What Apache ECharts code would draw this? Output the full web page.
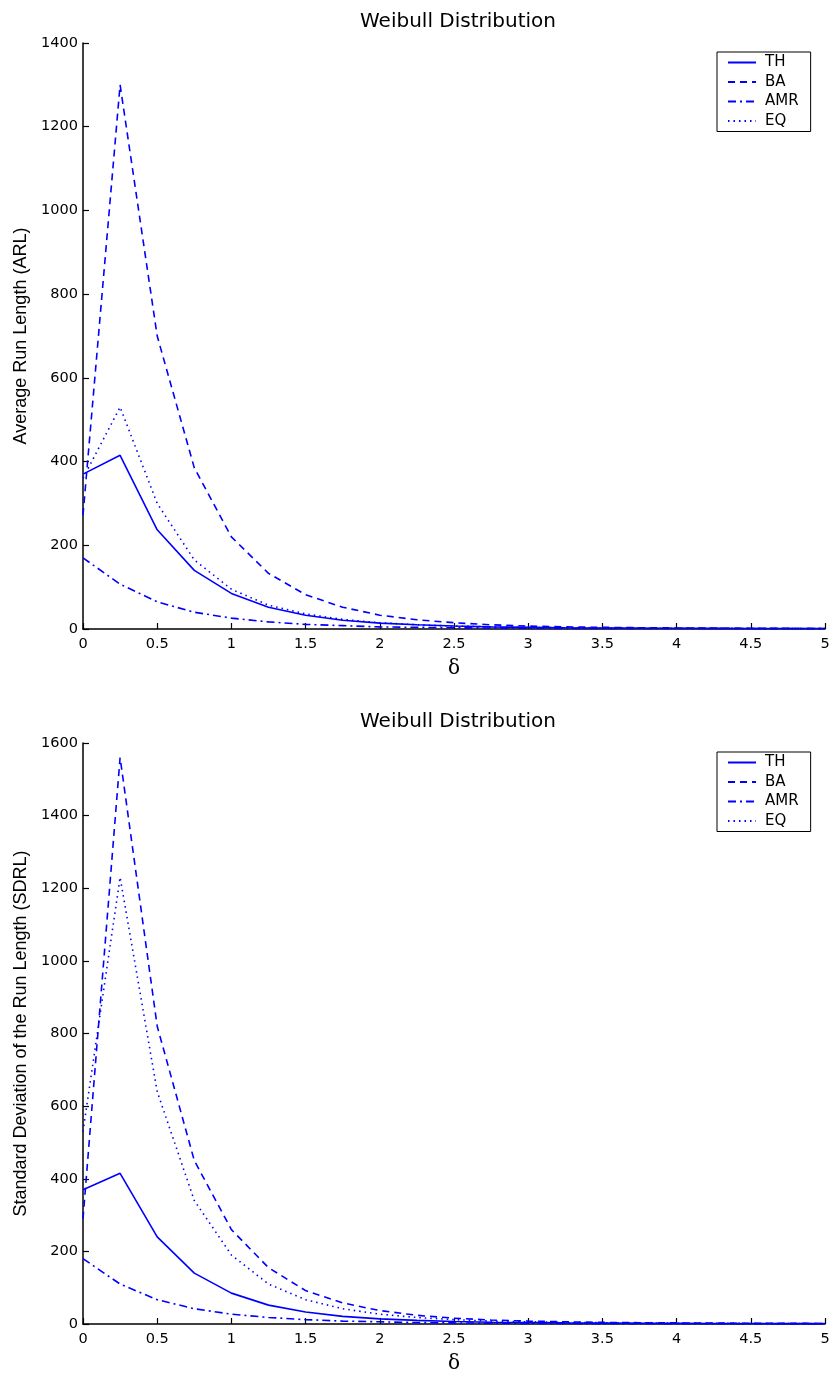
<!DOCTYPE html>
<html><head><meta charset="utf-8">
<script src="https://cdn.jsdelivr.net/npm/echarts@6/dist/echarts.min.js"></script>
<style>html,body{margin:0;padding:0;background:#fff}#c{width:834px;height:1375px}</style>
</head><body><div id="c"></div>
<script>
const deltas = [0,0.25,0.5,0.75,1,1.25,1.5,1.75,2,2.25,2.5,2.75,3,3.25,3.5,3.75,4,4.25,4.5,4.75,5];
const seriesNames = ['TH','BA','AMR','EQ'];
// ARL (top panel)
const arlTH  = [370,415,237,140,85,52,33,21,14,10,7,5,4,3,2.5,2,1.8,1.5,1.3,1.2,1.1];
const arlBA  = [272,1300,700,385,220,133,82,52,33,22,15,10,7,5,4,3,2.5,2,1.6,1.4,1.2];
const arlAMR = [170,107,65,40,26,17,11,8,5,4,3,2.3,1.8,1.5,1.3,1.2,1.1,1.1,1,1,1];
const arlEQ  = [360,530,300,165,95,57,36,23,15,10,7,5,4,3,2.4,2,1.7,1.5,1.3,1.2,1.1];
// SDRL (bottom panel)
const sdTH  = [370,415,240,140,85,52,33,21,14,10,7,5,4,3,2.5,2,1.6,1.3,1.1,1,0.9];
const sdBA  = [290,1560,820,450,260,155,92,58,37,24,16,11,8,6,4.5,3.5,3,2.5,2,1.7,1.5];
const sdAMR = [180,110,67,42,27,18,12,8,6,4,3,2.2,1.7,1.3,1,0.9,0.7,0.6,0.5,0.5,0.4];
const sdEQ  = [530,1230,640,340,190,110,67,42,27,18,12,8,6,4.5,3.5,2.8,2.2,1.8,1.5,1.3,1.1];
const titles = ['Weibull Distribution','Weibull Distribution'];
const yNames = ['Average Run Length (ARL)','Standard Deviation of the Run Length (SDRL)'];
const xName = 'δ';

const FONT = '"DejaVu Sans", "Liberation Sans", Arial, sans-serif';
const FONT2 = '"Liberation Sans", Arial, Helvetica, sans-serif';
const BLUE = '#0000ff';
const styles = [
  {type:'solid'},
  {type:[7,5]},
  {type:[8,4,2,4]},
  {type:[1.5,4]}
];
const pair = (ys) => deltas.map((x,i)=>[x, ys[i]]);
const panels = [[arlTH,arlBA,arlAMR,arlEQ],[sdTH,sdBA,sdAMR,sdEQ]];

const grids = [
  {left:83, right:9, top:43, height:586},
  {left:83, right:9, top:743, height:586}
];
const mkAxisCommon = (margin) => ({
  axisLine:{show:true, lineStyle:{color:'#000', width:1.5}},
  axisTick:{show:true, inside:true, length:6, lineStyle:{color:'#000', width:1.2}},
  axisLabel:{color:'#000', fontSize:14.5, fontFamily:FONT, margin:margin, formatter:(v)=>String(v)},
  splitLine:{show:false}
});
const xAxes = grids.map((g,i)=>Object.assign({
  type:'value', gridIndex:i, min:0, max:5, interval:0.5,
  name:xName, nameLocation:'middle', nameGap:30,
  nameTextStyle:{fontSize:20, color:'#000', fontFamily:'"DejaVu Serif", serif'}
}, mkAxisCommon(8)));
const yAxes = [
  Object.assign({type:'value', gridIndex:0, min:0, max:1400, interval:200,
    name:yNames[0], nameLocation:'middle', nameGap:52,
    nameTextStyle:{fontSize:18, color:'#000', fontFamily:FONT2}}, mkAxisCommon(5)),
  Object.assign({type:'value', gridIndex:1, min:0, max:1600, interval:200,
    name:yNames[1], nameLocation:'middle', nameGap:52,
    nameTextStyle:{fontSize:18, color:'#000', fontFamily:FONT2}}, mkAxisCommon(5))
];
const series = [];
panels.forEach((arrs,p)=>{
  arrs.forEach((ys,k)=>{
    series.push({
      name:seriesNames[k], type:'line', xAxisIndex:p, yAxisIndex:p,
      data:pair(ys), showSymbol:false, symbol:'none', animation:false,
      lineStyle:Object.assign({color:BLUE, width:1.6}, styles[k]),
      itemStyle:{color:BLUE}
    });
  });
});
const legendCommon = {
  orient:'vertical', data:seriesNames, left:717,
  icon:'inherit',
  itemWidth:28, itemHeight:14, itemGap:4.5,
  padding:[3,12,3,10],
  itemStyle:{opacity:0},
  borderColor:'#000', borderWidth:1, backgroundColor:'#fff',
  textStyle:{fontSize:15, color:'#000', fontFamily:FONT, padding:[0,0,0,4]},
  selectedMode:false
};
const chart = echarts.init(document.getElementById('c'), null, {renderer:'canvas'});
chart.setOption({
  animation:false,
  backgroundColor:'#fff',
  title:[
    {text:titles[0], left:355, top:7, textStyle:{fontSize:20, fontWeight:'normal', color:'#000', fontFamily:FONT}},
    {text:titles[1], left:355, top:707, textStyle:{fontSize:20, fontWeight:'normal', color:'#000', fontFamily:FONT}}
  ],
  legend:[
    Object.assign({top:52}, legendCommon),
    Object.assign({top:752}, legendCommon)
  ],
  grid:grids,
  xAxis:xAxes,
  yAxis:yAxes,
  series:series
});
</script></body></html>
